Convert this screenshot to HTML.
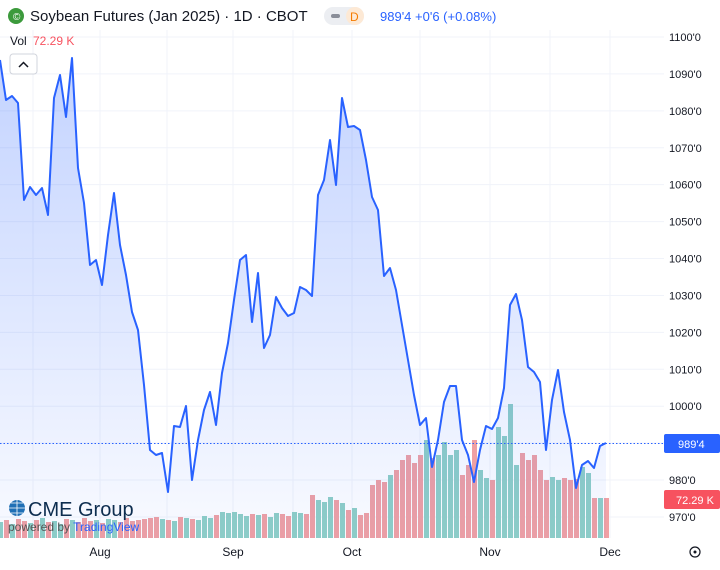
<!DOCTYPE html>
<html><head><meta charset="utf-8"><style>
body{margin:0;background:#fff;font-family:"Liberation Sans",sans-serif;}
svg text{font-family:"Liberation Sans",sans-serif;}
</style></head><body>
<svg id="s" width="720" height="565" xmlns="http://www.w3.org/2000/svg">
<defs><linearGradient id="g" x1="0" y1="0" x2="0" y2="1"><stop offset="0" stop-color="#2962ff" stop-opacity="0.28"/><stop offset="1" stop-color="#2962ff" stop-opacity="0.03"/></linearGradient></defs>
<g id="grid" stroke="#f0f3fa" stroke-width="1"></g>
<g id="vol"></g>
<path id="area" fill="url(#g)"/>
<line x1="0" y1="443.5" x2="664" y2="443.5" stroke="#2962ff" stroke-dasharray="1.5,2"/>
<path id="line" fill="none" stroke="#2962ff" stroke-width="2" stroke-linejoin="round"/>
<g id="ax" font-size="11" fill="#131722"></g>
<g font-size="12" fill="#131722" text-anchor="middle">
<text x="100" y="556">Aug</text><text x="233" y="556">Sep</text><text x="352" y="556">Oct</text><text x="490" y="556">Nov</text><text x="610" y="556">Dec</text></g>
<rect x="664" y="434" width="56" height="19" rx="2" fill="#2962ff"/><text x="678" y="448" font-size="11" fill="#fff">989'4</text>
<rect x="664" y="490" width="56" height="19" rx="2" fill="#f7525f"/><text x="676" y="504" font-size="11" fill="#fff">72.29 K</text>
<circle cx="695" cy="552" r="5" fill="none" stroke="#131722" stroke-width="1.2"/><circle cx="695" cy="552" r="1.5" fill="#131722"/>
<circle cx="16" cy="16" r="8" fill="#3c9a3c"/><text x="13" y="20" font-size="10" fill="#fff">©</text>
<text x="30" y="21" font-size="15" fill="#131722">Soybean Futures (Jan 2025) · 1D · CBOT</text>
<rect x="324" y="7" width="40" height="18" rx="9" fill="#eceef2"/><rect x="346" y="7" width="18" height="18" rx="9" fill="#fde9d5"/>
<rect x="331" y="14" width="9" height="4" rx="2" fill="#8a8e99"/><text x="350" y="21" font-size="12" fill="#f57c00">D</text>
<text x="380" y="21" font-size="13" fill="#2962ff">989'4  +0'6 (+0.08%)</text>
<text x="10" y="45" font-size="12" fill="#131722">Vol</text><text x="33" y="45" font-size="12" fill="#f7525f">72.29 K</text>
<rect x="10" y="54" width="27" height="20" rx="3" fill="#fff" stroke="#d1d4dc"/><path d="M19 67 L23.5 62.5 L28 67" fill="none" stroke="#131722" stroke-width="1.5"/>
<g id="logo">
<circle cx="17" cy="508" r="8" fill="#1f6fb5"/><path d="M9 508h16M17 500v16M11 503h12M11 513h12" stroke="#fff" stroke-width="0.8"/>
<text x="28" y="516" font-size="20" fill="#0d2d4f">CME Group</text>
<text x="8" y="531" font-size="12" fill="#555">powered by <tspan fill="#2962ff">TradingView</tspan></text>
</g>
</svg>
<script>
var P=[[0,60],[6,100],[12,96],[18,103],[24,200],[30,187],[36,195],[42,188],[48,215],[54,98],[60,75],[66,117],[72,58],[78,168],[84,203],[90,265],[96,260],[102,285],[108,235],[114,193],[120,245],[126,275],[132,312],[138,330],[144,385],[150,450],[156,455],[162,453],[168,492],[174,426],[180,427],[186,406],[192,480],[198,440],[204,410],[210,392],[216,425],[222,373],[228,343],[234,300],[240,260],[246,255],[252,322],[258,273],[264,348],[270,335],[276,297],[282,308],[288,316],[294,313],[300,287],[306,290],[312,296],[318,195],[324,180],[330,140],[336,185],[342,98],[348,127],[354,126],[360,130],[366,160],[372,197],[378,210],[384,276],[390,268],[396,290],[402,325],[408,360],[414,395],[420,425],[426,418],[432,467],[438,440],[444,402],[450,386],[456,386],[462,440],[468,455],[474,482],[480,450],[486,426],[492,429],[498,418],[504,388],[510,305],[516,294],[522,320],[528,367],[534,372],[540,382],[546,450],[552,400],[558,370],[564,412],[570,440],[576,488],[582,465],[588,461],[594,468],[600,446],[606,443]];
var V=[522,520,524,519,521,523,520,518,522,521,524,519,520,522,518,521,520,523,519,520,522,518,521,520,519,518,517,519,520,521,517,518,519,520,516,518,515,512,513,512,514,516,514,515,514,517,513,514,516,512,513,514,495,500,502,497,500,503,510,508,515,513,485,480,482,475,470,460,455,463,455,440,458,455,442,455,450,475,465,440,470,478,480,427,436,404,465,453,460,455,470,480,477,480,478,480,479,467,473,498,498,498];
var ns="http://www.w3.org/2000/svg";
function el(p,t,a){var e=document.createElementNS(ns,t);for(var k in a)e.setAttribute(k,a[k]);document.getElementById(p).appendChild(e);return e;}
for(var k=0;k<14;k++){var yy=37+k*36.92;el('grid','line',{x1:0,x2:664,y1:yy,y2:yy});var vv=1100-k*10;var tt=el('ax','text',{x:669,y:yy+4});tt.textContent=vv+"'0";}
[33,100,167,233,293,352,420,490,550,610].forEach(function(x){el('grid','line',{x1:x,x2:x,y1:30,y2:538});});
for(var i=0;i<P.length;i++){var up=i==0||P[i][1]<=P[i-1][1];if(i==P.length-1)up=false;var tp=V[i];el('vol','rect',{x:P[i][0]-2,y:tp,width:5,height:538-tp,fill:up?'#8fcfc6':'#f0a0a3'});}
var d=P.map(function(p,i){return (i?'L':'M')+p[0]+' '+p[1];}).join(' ');
document.getElementById('line').setAttribute('d',d);
document.getElementById('area').setAttribute('d',d+' L606 538 L0 538 Z');
</script>
</body></html>
